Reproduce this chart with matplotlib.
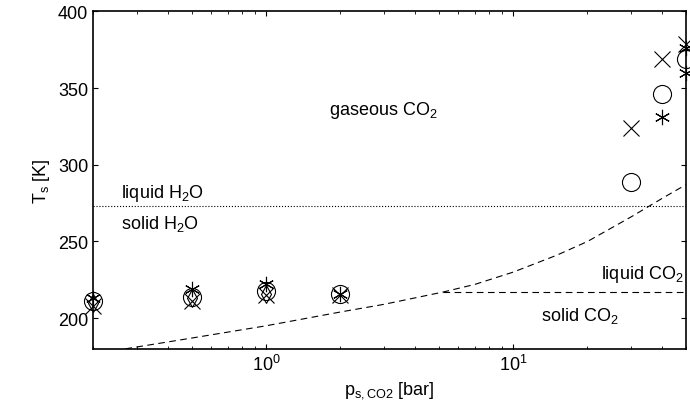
import numpy as np
import matplotlib
matplotlib.use('Agg')
import matplotlib.pyplot as plt

plt.rcParams['font.family'] = ['Liberation Sans', 'DejaVu Sans']
plt.rcParams['mathtext.fontset'] = 'custom'
plt.rcParams['mathtext.rm'] = 'Liberation Sans'

# simulated surface temperatures
p_circ = [0.2, 0.5, 1, 2, 30, 40, 50]
T_circ = [211, 214, 218, 216, 289, 346, 369]
p_x = [0.2, 0.5, 1, 2, 30, 40, 50]
T_x = [208, 211, 215, 215, 324, 369, 379]
p_ast = [0.2, 0.5, 1, 2, 40, 50, 50]
T_ast = [213, 219, 222, 216, 331, 360, 376]
p_dia = [0.2, 0.5, 1]
T_dia = [210, 213, 216]

# CO2 sublimation / vaporisation curve
p_sub = [0.27, 0.5, 1, 2, 3, 5.2, 7, 10, 15, 20, 30, 40, 50]
T_sub = [180, 187, 195, 204, 209, 217, 222, 230, 241, 250, 266, 278, 287]
p_triple = [5.2, 50]
T_triple = [217, 217]
p_h2o = [0.2, 50]
T_h2o = [273, 273]

fig, ax = plt.subplots(figsize=(6.9, 4.14), dpi=100)
ax.plot(p_sub, T_sub, 'k--', lw=0.8, dashes=(6, 4))
ax.plot(p_triple, T_triple, 'k--', lw=0.8, dashes=(6, 4))
ax.plot(p_h2o, T_h2o, 'k:', lw=0.8)

ax.plot(p_circ, T_circ, 'o', mfc='none', mec='k', ms=13, mew=0.8, clip_on=False)
ax.plot(p_x, T_x, 'x', color='k', ms=11, mew=0.8, clip_on=False)
ax.plot(p_ast, T_ast, marker=(6, 2, 0), ls='none', color='k', ms=11, mew=0.8, clip_on=False)
ax.plot(p_dia, T_dia, 'd', mfc='none', mec='k', ms=9, mew=0.8, clip_on=False)

ax.set_xscale('log')
ax.set_xlim(0.2, 50)
ax.set_ylim(180, 400)
ax.set_yticks([200, 250, 300, 350, 400])
ax.set_xlabel('p$_{\\mathrm{s,CO2}}$ [bar]', fontsize=13)
ax.set_ylabel('T$_{\\mathrm{s}}$ [K]', fontsize=13)
ax.tick_params(which='both', direction='in', top=True, right=True, labelsize=13)
for s in ax.spines.values():
    s.set_linewidth(1.2)

ax.text(1.8, 333, 'gaseous CO$_2$', fontsize=13)
ax.text(0.26, 279, 'liquid H$_2$O', fontsize=13)
ax.text(0.26, 259, 'solid H$_2$O', fontsize=13)
ax.text(49, 226, 'liquid CO$_2$', fontsize=13, ha='right')
ax.text(13, 199, 'solid CO$_2$', fontsize=13)

fig.subplots_adjust(left=0.135, right=0.994, top=0.97, bottom=0.155)
fig.savefig('out.png', dpi=100)
